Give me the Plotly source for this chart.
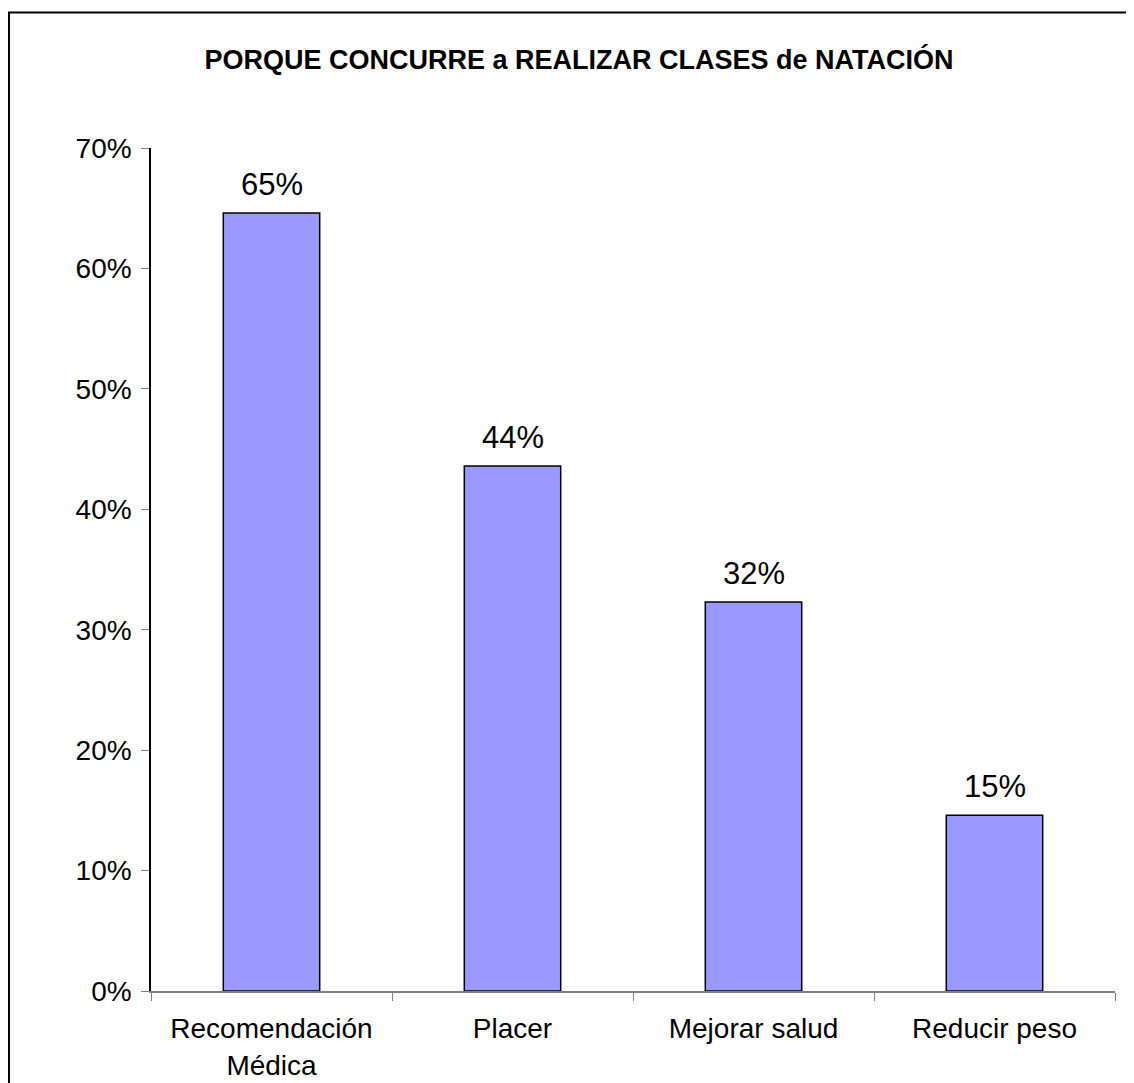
import plotly.graph_objects as go

# data
categories = ["Recomendación<br>Médica", "Placer", "Mejorar salud", "Reducir peso"]
shares = [0.646, 0.436, 0.323, 0.146]
y_ticks = [0, 0.1, 0.2, 0.3, 0.4, 0.5, 0.6, 0.7]

FONT = "Liberation Sans, Arial, sans-serif"

fig = go.Figure(go.Bar(
    x=categories, y=shares,
    marker=dict(color="#9999FF", line=dict(color="#000000", width=1.5)),
    showlegend=False,
))

# value labels above bars
for c, v in zip(categories, shares):
    fig.add_annotation(x=c, y=v, text=f"{v:.0%}", showarrow=False,
                       yanchor="bottom", yshift=9,
                       font=dict(family=FONT, size=31, color="#000000"))

# outer chart frame (left + top visible, rest runs off the page)
fig.add_shape(type="rect", xref="paper", yref="paper",
              x0=-0.1473, x1=1.1, y0=-0.3, y1=1.1607,
              line=dict(color="#000000", width=2), layer="below")

fig.update_layout(
    width=1134, height=1083,
    margin=dict(l=143, r=27, t=139.5, b=100.3, autoexpand=False),
    plot_bgcolor="white", paper_bgcolor="white",
    bargap=0.6,
    font=dict(family=FONT, size=28, color="#000000"),
    title=dict(text="<b>PORQUE CONCURRE a REALIZAR CLASES de NATACIÓN</b>",
               x=0.5035, xanchor="center", xref="container", y=1 - 52 / 1083, yanchor="middle",
               font=dict(family=FONT, size=27, color="#000000")),
)
fig.update_xaxes(showline=True, linecolor="#808080", linewidth=1.5,
                 ticks="outside", tickson="boundaries", ticklen=8, tickcolor="#808080",
                 ticklabelstandoff=12, automargin=False,
                 tickfont=dict(family=FONT, size=28), showgrid=False, fixedrange=True)
fig.update_yaxes(range=[0, 0.7], tickvals=y_ticks, tickformat=".0%",
                 showline=True, linecolor="#000000", linewidth=1.5,
                 ticks="outside", ticklen=8, tickcolor="#808080",
                 ticklabelstandoff=4, automargin=False,
                 tickfont=dict(family=FONT, size=28), showgrid=False, zeroline=False)

fig.write_html("out.html")
